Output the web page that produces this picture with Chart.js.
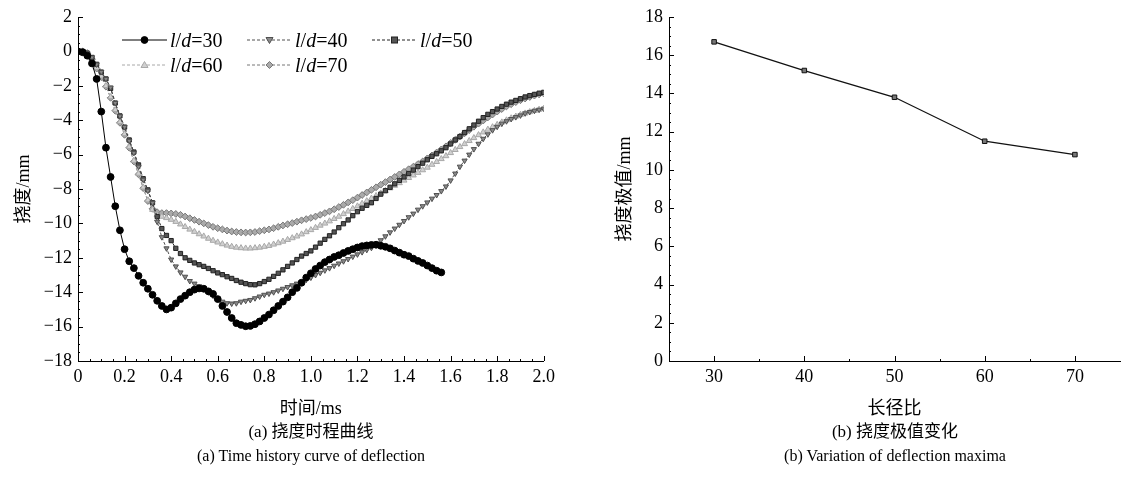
<!DOCTYPE html>
<html><head><meta charset="utf-8">
<script src="https://cdn.jsdelivr.net/npm/chart.js@4.4.1/dist/chart.umd.min.js"></script>
<style>
html,body{margin:0;padding:0;background:#fff;}
#wrap{position:relative;width:1135px;height:489px;overflow:hidden;font-family:'Liberation Serif','Noto Sans CJK SC',serif;color:#000;}
canvas{position:absolute;top:0;}
.cap{position:absolute;transform:translateX(-50%);white-space:nowrap;line-height:1;}
.zh{font-family:'Liberation Serif','Noto Sans CJK SC',serif;font-size:17px;}
.en{font-size:16px;}
.lg{position:absolute;display:flex;align-items:center;font-size:20px;line-height:1;white-space:nowrap;}
.lg svg{margin-right:3px;}
</style></head>
<body><div id="wrap">
<canvas id="c1" width="560" height="425" style="left:0"></canvas>
<canvas id="c2" width="575" height="425" style="left:560px"></canvas>
<div id="legend"></div>
<div class="cap zh" style="left:311px;top:423px">(a) 挠度时程曲线</div>
<div class="cap en" style="left:311px;top:448px">(a) Time history curve of deflection</div>
<div class="cap zh" style="left:895px;top:423px">(b) 挠度极值变化</div>
<div class="cap en" style="left:895px;top:448px">(b) Variation of deflection maxima</div>
</div>
<script>
// ---------- data ----------
const time = [0,0.02,0.04,0.06,0.08,0.1,0.12,0.14,0.16,0.18,0.2,0.22,0.24,0.26,0.28,0.3,0.32,0.34,0.36,0.38,0.4,0.42,0.44,0.46,0.48,0.5,0.52,0.54,0.56,0.58,0.6,0.62,0.64,0.66,0.68,0.7,0.72,0.74,0.76,0.78,0.8,0.82,0.84,0.86,0.88,0.9,0.92,0.94,0.96,0.98,1,1.02,1.04,1.06,1.08,1.1,1.12,1.14,1.16,1.18,1.2,1.22,1.24,1.26,1.28,1.3,1.32,1.34,1.36,1.38,1.4,1.42,1.44,1.46,1.48,1.5,1.52,1.54,1.56,1.58,1.6,1.62,1.64,1.66,1.68,1.7,1.72,1.74,1.76,1.78,1.8,1.82,1.84,1.86,1.88,1.9,1.92,1.94,1.96,1.98,2];

const ld30 = [0,-0.05,-0.25,-0.7,-1.6,-3.5,-5.6,-7.3,-9.0,-10.4,-11.5,-12.2,-12.6,-13.05,-13.45,-13.8,-14.15,-14.5,-14.8,-15.0,-14.9,-14.65,-14.4,-14.2,-14.0,-13.85,-13.78,-13.8,-13.95,-14.1,-14.4,-14.8,-15.15,-15.5,-15.8,-15.9,-15.98,-15.96,-15.86,-15.7,-15.5,-15.3,-15.05,-14.8,-14.55,-14.3,-14.0,-13.75,-13.45,-13.15,-12.9,-12.65,-12.45,-12.25,-12.1,-11.95,-11.85,-11.72,-11.6,-11.5,-11.4,-11.32,-11.28,-11.25,-11.24,-11.3,-11.36,-11.45,-11.58,-11.7,-11.82,-11.9,-12.05,-12.18,-12.3,-12.45,-12.6,-12.75,-12.85];

const ld40 = [0,0,-0.1,-0.35,-0.76,-1.2,-1.6,-2.1,-3.0,-3.77,-4.4,-5.2,-5.9,-6.7,-7.46,-8.1,-8.8,-9.9,-10.8,-11.45,-12.1,-12.5,-12.85,-13.1,-13.35,-13.5,-13.65,-13.8,-14.0,-14.2,-14.4,-14.55,-14.64,-14.66,-14.64,-14.55,-14.5,-14.45,-14.35,-14.25,-14.15,-14.08,-14.0,-13.9,-13.8,-13.7,-13.6,-13.5,-13.4,-13.28,-13.15,-13.0,-12.87,-12.73,-12.6,-12.46,-12.33,-12.2,-12.07,-11.93,-11.8,-11.67,-11.54,-11.42,-11.2,-10.98,-10.75,-10.52,-10.3,-10.08,-9.86,-9.64,-9.43,-9.2,-9.0,-8.78,-8.56,-8.35,-8.12,-7.85,-7.5,-7.1,-6.7,-6.35,-6.0,-5.68,-5.37,-5.08,-4.82,-4.58,-4.38,-4.2,-4.06,-3.93,-3.82,-3.72,-3.6,-3.52,-3.45,-3.39,-3.33];

const ld50 = [0,0,-0.1,-0.35,-0.75,-1.2,-1.6,-2.15,-3.0,-3.75,-4.4,-5.15,-5.85,-6.6,-7.4,-8.05,-8.8,-9.6,-10.3,-10.7,-11.0,-11.45,-11.75,-12.0,-12.15,-12.3,-12.4,-12.5,-12.62,-12.75,-12.88,-12.98,-13.1,-13.2,-13.32,-13.42,-13.5,-13.56,-13.57,-13.5,-13.38,-13.25,-13.08,-12.9,-12.7,-12.5,-12.3,-12.1,-11.9,-11.75,-11.6,-11.38,-11.15,-10.93,-10.72,-10.5,-10.25,-10.02,-9.8,-9.55,-9.32,-9.12,-8.95,-8.8,-8.55,-8.3,-8.1,-7.9,-7.7,-7.5,-7.3,-7.1,-6.9,-6.7,-6.5,-6.3,-6.1,-5.95,-5.78,-5.6,-5.38,-5.15,-4.95,-4.72,-4.5,-4.28,-4.06,-3.85,-3.66,-3.5,-3.35,-3.2,-3.07,-2.95,-2.85,-2.75,-2.65,-2.57,-2.5,-2.43,-2.38];

const ld60 = [0,0,-0.1,-0.45,-0.95,-1.45,-2.0,-2.65,-3.4,-4.1,-4.8,-5.55,-6.35,-7.1,-7.9,-8.65,-9.2,-9.5,-9.6,-9.68,-9.78,-9.9,-10.05,-10.2,-10.35,-10.48,-10.62,-10.75,-10.88,-11.0,-11.1,-11.2,-11.28,-11.35,-11.4,-11.43,-11.45,-11.45,-11.43,-11.4,-11.35,-11.3,-11.22,-11.14,-11.05,-10.95,-10.85,-10.75,-10.63,-10.5,-10.38,-10.25,-10.12,-10.0,-9.87,-9.73,-9.6,-9.45,-9.3,-9.15,-9.0,-8.85,-8.7,-8.55,-8.4,-8.25,-8.1,-7.95,-7.8,-7.65,-7.5,-7.35,-7.2,-7.05,-6.9,-6.75,-6.58,-6.42,-6.25,-6.08,-5.9,-5.72,-5.55,-5.38,-5.2,-5.03,-4.86,-4.7,-4.54,-4.4,-4.26,-4.12,-4.0,-3.88,-3.78,-3.68,-3.6,-3.52,-3.45,-3.38,-3.32];

const ld70 = [0,0,-0.1,-0.45,-1.0,-1.5,-2.05,-2.7,-3.45,-4.15,-4.85,-5.6,-6.4,-7.15,-7.95,-8.7,-9.15,-9.35,-9.4,-9.4,-9.42,-9.45,-9.5,-9.6,-9.7,-9.8,-9.9,-10.0,-10.1,-10.2,-10.28,-10.35,-10.42,-10.47,-10.5,-10.52,-10.53,-10.52,-10.5,-10.45,-10.4,-10.35,-10.28,-10.2,-10.12,-10.05,-9.98,-9.9,-9.82,-9.75,-9.68,-9.6,-9.5,-9.4,-9.3,-9.18,-9.05,-8.92,-8.78,-8.65,-8.5,-8.35,-8.2,-8.05,-7.9,-7.75,-7.6,-7.45,-7.3,-7.15,-7.0,-6.85,-6.7,-6.55,-6.4,-6.22,-6.05,-5.88,-5.7,-5.52,-5.33,-5.14,-4.95,-4.76,-4.57,-4.38,-4.2,-4.02,-3.84,-3.67,-3.5,-3.35,-3.2,-3.07,-2.95,-2.84,-2.74,-2.65,-2.57,-2.5,-2.45];

const seriesNames = ['l/d=30','l/d=40','l/d=50','l/d=60','l/d=70'];

const ratio = [30, 40, 50, 60, 70];
const maxima = [16.7, 15.2, 13.8, 11.5, 10.8];

const timeTicks = [0,0.2,0.4,0.6,0.8,1.0,1.2,1.4,1.6,1.8,2.0];
const timeTickLabels = ['0','0.2','0.4','0.6','0.8','1.0','1.2','1.4','1.6','1.8','2.0'];
const deflTicks = [-18,-16,-14,-12,-10,-8,-6,-4,-2,0,2];
const ratioTicks = [30,40,50,60,70];
const maxTicks = [0,2,4,6,8,10,12,14,16,18];

// ---------- helpers ----------
const FONT = {family:"'Liberation Serif','Noto Sans CJK SC',serif", size:18};
const minus = v => (v < 0 ? '\u2212' + Math.abs(v) : String(v));
const pts = (xs, ys) => ys.map((y, i) => ({x: xs[i], y}));

const inTicks = {
  id: 'inTicks',
  afterDraw(chart, args, o) {
    const ctx = chart.ctx, a = chart.chartArea, sx = chart.scales.x, sy = chart.scales.y;
    ctx.save();
    ctx.strokeStyle = '#000'; ctx.lineWidth = 1;
    const seg = (x1, y1, x2, y2) => { ctx.beginPath(); ctx.moveTo(x1, y1); ctx.lineTo(x2, y2); ctx.stroke(); };
    const xv = sx.ticks.map(t => t.value), yv = sy.ticks.map(t => t.value);
    xv.forEach(v => { const p = Math.round(sx.getPixelForValue(v)) + 0.5; seg(p, a.bottom, p, a.bottom - 5); });
    yv.forEach(v => { const p = Math.round(sy.getPixelForValue(v)) + 0.5; seg(a.left, p, a.left + 5, p); });
    for (let i = 0; i < xv.length - 1; i++) for (let k = 1; k < o.xm; k++) {
      const p = Math.round(sx.getPixelForValue(xv[i] + (xv[i+1]-xv[i])*k/o.xm)) + 0.5; seg(p, a.bottom, p, a.bottom - 2);
    }
    for (let i = 0; i < yv.length - 1; i++) for (let k = 1; k < o.ym; k++) {
      const p = Math.round(sy.getPixelForValue(yv[i] + (yv[i+1]-yv[i])*k/o.ym)) + 0.5; seg(a.left, p, a.left + 2, p);
    }
    ctx.restore();
  }
};

function axisX(min, max, ticks, labels, title) {
  return {
    type: 'linear', min, max,
    afterBuildTicks: s => { s.ticks = ticks.map(v => ({value: v})); },
    afterFit: s => { s.height = 64; },
    ticks: {autoSkip:false, maxRotation:0, padding:5, color:'#000', font:FONT,
            callback: (v, i) => labels[i]},
    grid: {display:false, drawTicks:false},
    border: {display:true, color:'#000', width:1},
    title: {display:true, text:title, color:'#000', font:FONT, padding:{top:0, bottom:5}}
  };
}
function axisY(min, max, ticks, title, width, tpad) {
  return {
    type: 'linear', min, max,
    afterBuildTicks: s => { s.ticks = ticks.map(v => ({value: v})); },
    afterFit: s => { s.width = width; },
    ticks: {autoSkip:false, padding:6, color:'#000', font:FONT, callback: v => minus(v)},
    grid: {display:false, drawTicks:false},
    border: {display:true, color:'#000', width:1},
    title: {display:true, text:title, color:'#000', font:FONT, padding:{top:tpad, bottom:0}}
  };
}

// ---------- chart (a) ----------
const styles = [
  {c:'#000000', bg:'#000000', ps:'circle', r:3.4, rot:0, dash:[]},
  {c:'#505050', bg:'#8a8a8a', ps:'triangle', r:3.0, rot:180, dash:[3,2]},
  {c:'#222222', bg:'#555555', ps:'rect', r:3.0, rot:0, dash:[3,2]},
  {c:'#a8a8a8', bg:'#d0d0d0', ps:'triangle', r:3.4, rot:0, dash:[3,2]},
  {c:'#777777', bg:'#aaaaaa', ps:'rectRot', r:3.4, rot:0, dash:[3,2]}
];
const ys = [ld30, ld40, ld50, ld60, ld70];
new Chart(document.getElementById('c1'), {
  type: 'line',
  data: {datasets: ys.map((y, i) => ({
    label: seriesNames[i], data: pts(time, y),
    borderColor: styles[i].c, backgroundColor: styles[i].bg, borderWidth: 1,
    borderDash: styles[i].dash, pointStyle: styles[i].ps, pointRotation: styles[i].rot,
    pointRadius: styles[i].r, pointBorderColor: styles[i].c, pointBackgroundColor: styles[i].bg,
    pointBorderWidth: 1, tension: 0, fill: false
  }))},
  options: {
    responsive:false, animation:false,
    layout: {padding:{top:17, right:16, left:0, bottom:0}},
    plugins: {legend:{display:false}, tooltip:{enabled:false}, inTicks:{xm:4, ym:4}},
    scales: {x: axisX(0, 2, timeTicks, timeTickLabels, '时间/ms'),
             y: axisY(-18, 2, deflTicks, '挠度/mm', 78, 13)}
  },
  plugins: [inTicks]
});

// ---------- chart (b) ----------
new Chart(document.getElementById('c2'), {
  type: 'line',
  data: {datasets: [{
    label:'挠度极值', data: pts(ratio, maxima),
    borderColor:'#111', borderWidth:1.3, pointStyle:'rect', pointRadius:3.2,
    pointBackgroundColor:'#777', pointBorderColor:'#111', pointBorderWidth:1, tension:0
  }]},
  options: {
    responsive:false, animation:false,
    layout: {padding:{top:17, right:15, left:0, bottom:0}},
    plugins: {legend:{display:false}, tooltip:{enabled:false}, inTicks:{xm:2, ym:4}},
    scales: {x: axisX(25, 75, ratioTicks, ratioTicks.map(String), '长径比'),
             y: axisY(0, 18, maxTicks, '挠度极值/mm', 109, 54)}
  },
  plugins: [inTicks]
});

// ---------- legend (HTML) ----------
const legendPos = [[122,40],[247,40],[372,40],[122,65],[247,65]];
const markerSvg = (s) => {
  const cx = 22.5, cy = 7;
  let m = '';
  if (s.ps === 'circle') m = `<circle cx="${cx}" cy="${cy}" r="${s.r}" fill="${s.bg}" stroke="${s.c}"/>`;
  else if (s.ps === 'rect') m = `<rect x="${cx-3}" y="${cy-3}" width="6" height="6" fill="${s.bg}" stroke="${s.c}"/>`;
  else if (s.ps === 'rectRot') m = `<polygon points="${cx},${cy-3.5} ${cx+3.5},${cy} ${cx},${cy+3.5} ${cx-3.5},${cy}" fill="${s.bg}" stroke="${s.c}"/>`;
  else if (s.rot === 180) m = `<polygon points="${cx-3.5},${cy-2.5} ${cx+3.5},${cy-2.5} ${cx},${cy+3.5}" fill="${s.bg}" stroke="${s.c}"/>`;
  else m = `<polygon points="${cx-3.5},${cy+2.5} ${cx+3.5},${cy+2.5} ${cx},${cy-3.5}" fill="${s.bg}" stroke="${s.c}"/>`;
  return `<svg width="45" height="14"><line x1="0" y1="7" x2="45" y2="7" stroke="${s.c}" stroke-width="1" ${s.dash.length ? 'stroke-dasharray="3,2"' : ''}/>${m}</svg>`;
};
const lg = document.getElementById('legend');
seriesNames.forEach((n, i) => {
  const [x, y] = legendPos[i];
  const d = document.createElement('div');
  d.className = 'lg';
  d.style.left = x + 'px'; d.style.top = (y - 10) + 'px'; d.style.height = '20px';
  const num = n.split('=')[1];
  d.innerHTML = markerSvg(styles[i]) + `<span><i>l</i>/<i>d</i>=${num}</span>`;
  lg.appendChild(d);
});
</script>
</body></html>
